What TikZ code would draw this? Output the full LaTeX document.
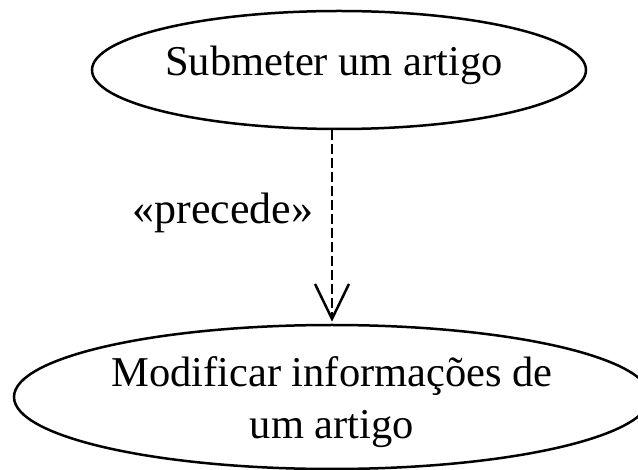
\documentclass[tikz,border=0pt]{standalone}
\usepackage{fontspec}
\setmainfont{Liberation Serif}
\usetikzlibrary{arrows.meta,shapes.geometric}

\begin{document}
\begin{tikzpicture}[x=1pt,y=-1pt,line width=2.5pt,
  usecase/.style={shape=ellipse,draw=black,inner sep=0pt},
  ucname/.style={align=center,inner sep=0pt,font=\fontsize{42.5}{52}\selectfont},
  precede/.style={dashed,dash pattern=on 10pt off 4pt,-{Straight Barb[length=35pt,width=34pt,line width=2.5pt]},shorten >=2pt},
  stereo/.style={font=\fontsize{44}{52}\selectfont}]
\def\wa{494};
\def\ha{118};
\def\wb{636};
\def\hb{144};

\useasboundingbox (0,0) rectangle (638,470);

% use cases
\node[usecase,minimum width=\wa,minimum height=\ha] (submeter) at (339,70) {};
\node[ucname] (submeterT) at (334,65) {Submeter um artigo};
\node[usecase,minimum width=\wb,minimum height=\hb] (modificar) at (332,397) {};
\node[ucname] (modificarT) at (332,402) {Modificar informações de\\um artigo};

\draw[precede] (submeter.south -| modificar.north) -- (modificar.north);
\node[stereo] (rel) at (223,213) {«precede»};
\end{tikzpicture}
\end{document}
